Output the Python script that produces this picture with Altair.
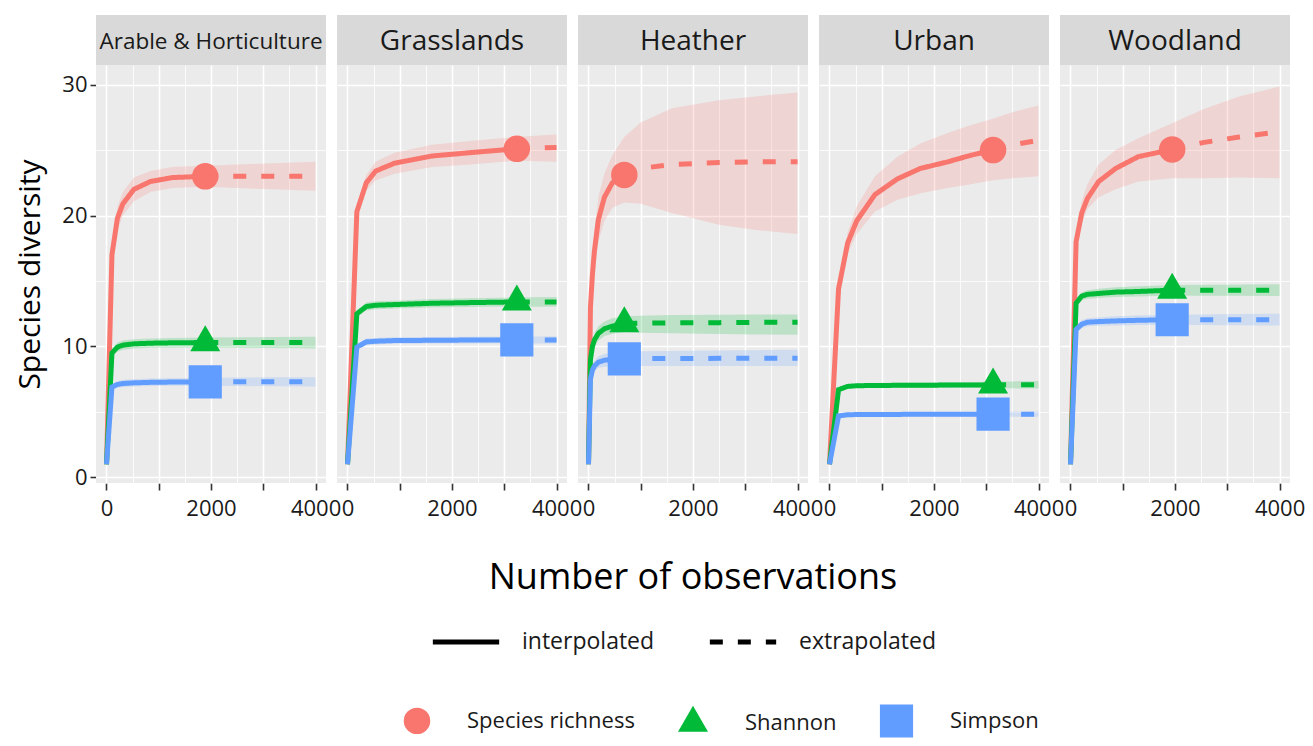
import altair as alt
import pandas as pd

HABITATS = ["Arable & Horticulture", "Grasslands", "Heather", "Urban", "Woodland"]
INDICES = ["Species richness", "Shannon", "Simpson"]
COLORS = ["#F8766D", "#00BA38", "#619CFF"]
# triangle path centred on its centroid, like ggplot's filled triangle
SHAPES = ["circle", "M0,-1.155L1,0.577L-1,0.577Z", "square"]
METHODS = ["interpolated", "extrapolated"]
X_TICKS = [0, 500, 1000, 1500, 2000, 2500, 3000, 3500, 4000]
Y_TICKS = [0, 5, 10, 15, 20, 25, 30]

# ---- Arable & Horticulture ----
ARA_N = 1890
ARA_M = [1, 105, 210, 315, 525, 840, 1260, 1890, 2500, 3200, 4000]
ARA_RICH = [1, 17.0, 19.8, 20.9, 22.0, 22.6, 22.9, 23.0, 23.0, 23.0, 23.0]
ARA_RICH_LO = [1, 16.3, 18.9, 20.0, 21.1, 21.8, 22.1, 22.2, 22.1, 22.0, 21.9]
ARA_RICH_HI = [1, 17.7, 20.7, 21.8, 22.9, 23.4, 23.7, 23.8, 23.9, 24.0, 24.1]
ARA_SHAN = [1, 9.5, 9.95, 10.1, 10.2, 10.25, 10.28, 10.3, 10.3, 10.3, 10.3]
ARA_SHAN_LO = [1, 9.2, 9.6, 9.75, 9.85, 9.9, 9.9, 9.92, 9.9, 9.88, 9.85]
ARA_SHAN_HI = [1, 9.8, 10.3, 10.45, 10.55, 10.6, 10.65, 10.68, 10.7, 10.72, 10.75]
ARA_SIMP = [1, 6.9, 7.1, 7.17, 7.22, 7.26, 7.28, 7.3, 7.3, 7.3, 7.3]
ARA_SIMP_LO = [1, 6.65, 6.85, 6.9, 6.95, 6.98, 7.0, 7.0, 6.98, 6.96, 6.95]
ARA_SIMP_HI = [1, 7.15, 7.35, 7.45, 7.5, 7.55, 7.57, 7.6, 7.62, 7.64, 7.65]

# ---- Grasslands ----
GRA_N = 3240
GRA_M = [1, 180, 360, 540, 900, 1620, 2340, 3240, 3600, 4000]
GRA_RICH = [1, 20.3, 22.5, 23.4, 24.0, 24.55, 24.8, 25.1, 25.15, 25.2]
GRA_RICH_LO = [1, 19.8, 21.9, 22.7, 23.2, 23.7, 23.9, 24.2, 24.15, 24.1]
GRA_RICH_HI = [1, 20.8, 23.1, 24.1, 24.8, 25.4, 25.7, 26.0, 26.1, 26.2]
GRA_SHAN = [1, 12.5, 13.05, 13.15, 13.2, 13.3, 13.35, 13.4, 13.4, 13.4]
GRA_SHAN_LO = [1, 12.25, 12.75, 12.85, 12.9, 12.98, 13.02, 13.05, 13.04, 13.03]
GRA_SHAN_HI = [1, 12.75, 13.35, 13.45, 13.5, 13.62, 13.68, 13.75, 13.76, 13.77]
GRA_SIMP = [1, 9.95, 10.35, 10.4, 10.45, 10.47, 10.49, 10.5, 10.5, 10.5]
GRA_SIMP_LO = [1, 9.75, 10.1, 10.15, 10.2, 10.22, 10.23, 10.24, 10.23, 10.22]
GRA_SIMP_HI = [1, 10.15, 10.6, 10.65, 10.7, 10.72, 10.75, 10.76, 10.77, 10.78]

# ---- Heather ----
HEA_N = 686
HEA_M = [1, 38, 76, 114, 190, 305, 457, 686, 1000, 1600, 2500, 3200, 4000]
HEA_RICH = [1, 13.0, 15.5, 17.3, 19.7, 21.4, 22.5, 23.1, 23.6, 23.9, 24.05, 24.1, 24.1]
HEA_RICH_LO = [1, 11.5, 14.0, 15.8, 18.0, 19.6, 20.6, 21.0, 20.9, 20.2, 19.3, 18.9, 18.6]
HEA_RICH_HI = [1, 14.5, 17.0, 18.8, 21.4, 23.2, 24.6, 26.0, 27.1, 28.2, 28.8, 29.1, 29.4]
HEA_SHAN = [1, 9.0, 10.0, 10.5, 11.0, 11.35, 11.55, 11.75, 11.78, 11.8, 11.82, 11.84, 11.85]
HEA_SHAN_LO = [1, 8.7, 9.6, 10.0, 10.45, 10.8, 10.95, 11.1, 11.05, 11.0, 10.95, 10.92, 10.9]
HEA_SHAN_HI = [1, 9.3, 10.4, 11.0, 11.55, 11.9, 12.15, 12.3, 12.35, 12.4, 12.42, 12.44, 12.45]
HEA_SIMP = [1, 7.5, 8.2, 8.5, 8.8, 8.95, 9.0, 9.05, 9.07, 9.08, 9.09, 9.1, 9.1]
HEA_SIMP_LO = [1, 7.2, 7.85, 8.1, 8.35, 8.45, 8.48, 8.5, 8.5, 8.5, 8.5, 8.5, 8.5]
HEA_SIMP_HI = [1, 7.8, 8.55, 8.9, 9.25, 9.45, 9.52, 9.6, 9.63, 9.66, 9.7, 9.72, 9.75]

# ---- Urban ----
URB_N = 3130
URB_M = [1, 174, 348, 522, 870, 1300, 1740, 2260, 2700, 3130, 3500, 4000]
URB_RICH = [1, 14.4, 17.9, 19.6, 21.6, 22.8, 23.6, 24.1, 24.6, 25.0, 25.4, 25.75]
URB_RICH_LO = [1, 13.9, 17.1, 18.6, 20.3, 21.2, 21.7, 22.1, 22.4, 22.7, 22.85, 23.0]
URB_RICH_HI = [1, 14.9, 18.7, 20.7, 23.0, 24.5, 25.5, 26.3, 26.9, 27.4, 27.9, 28.4]
URB_SHAN = [1, 6.7, 6.95, 7.0, 7.02, 7.03, 7.04, 7.05, 7.06, 7.07, 7.07, 7.07]
URB_SHAN_LO = [1, 6.55, 6.78, 6.82, 6.83, 6.83, 6.83, 6.83, 6.83, 6.83, 6.8, 6.78]
URB_SHAN_HI = [1, 6.85, 7.12, 7.18, 7.21, 7.23, 7.25, 7.27, 7.29, 7.31, 7.33, 7.36]
URB_SIMP = [1, 4.7, 4.78, 4.8, 4.81, 4.81, 4.82, 4.82, 4.83, 4.83, 4.83, 4.83]
URB_SIMP_LO = [1, 4.58, 4.65, 4.66, 4.66, 4.66, 4.66, 4.65, 4.65, 4.65, 4.64, 4.63]
URB_SIMP_HI = [1, 4.82, 4.91, 4.94, 4.96, 4.97, 4.98, 4.99, 5.0, 5.01, 5.02, 5.03]

# ---- Woodland ----
WOO_N = 1946
WOO_M = [1, 108, 216, 324, 540, 865, 1300, 1946, 2530, 3230, 4000]
WOO_RICH = [1, 18.0, 20.2, 21.3, 22.6, 23.6, 24.5, 25.05, 25.57, 26.0, 26.4]
WOO_RICH_LO = [1, 17.3, 19.4, 20.5, 21.4, 22.0, 22.6, 22.85, 22.85, 22.9, 22.85]
WOO_RICH_HI = [1, 18.8, 21.1, 22.4, 23.9, 25.0, 25.9, 27.05, 28.1, 29.1, 29.85]
WOO_SHAN = [1, 13.3, 13.85, 13.98, 14.05, 14.15, 14.2, 14.3, 14.3, 14.3, 14.3]
WOO_SHAN_LO = [1, 13.05, 13.55, 13.65, 13.7, 13.78, 13.82, 13.9, 13.88, 13.87, 13.85]
WOO_SHAN_HI = [1, 13.55, 14.15, 14.3, 14.4, 14.52, 14.6, 14.7, 14.72, 14.74, 14.75]
WOO_SIMP = [1, 11.3, 11.7, 11.85, 11.9, 11.95, 12.0, 12.04, 12.04, 12.04, 12.04]
WOO_SIMP_LO = [1, 11.05, 11.4, 11.55, 11.58, 11.6, 11.63, 11.65, 11.63, 11.62, 11.6]
WOO_SIMP_HI = [1, 11.55, 12.0, 12.15, 12.22, 12.3, 12.37, 12.43, 12.45, 12.47, 12.5]

SERIES = [
    ("Arable & Horticulture", ARA_N, ARA_M, [
        (ARA_RICH, ARA_RICH_LO, ARA_RICH_HI), (ARA_SHAN, ARA_SHAN_LO, ARA_SHAN_HI), (ARA_SIMP, ARA_SIMP_LO, ARA_SIMP_HI)]),
    ("Grasslands", GRA_N, GRA_M, [
        (GRA_RICH, GRA_RICH_LO, GRA_RICH_HI), (GRA_SHAN, GRA_SHAN_LO, GRA_SHAN_HI), (GRA_SIMP, GRA_SIMP_LO, GRA_SIMP_HI)]),
    ("Heather", HEA_N, HEA_M, [
        (HEA_RICH, HEA_RICH_LO, HEA_RICH_HI), (HEA_SHAN, HEA_SHAN_LO, HEA_SHAN_HI), (HEA_SIMP, HEA_SIMP_LO, HEA_SIMP_HI)]),
    ("Urban", URB_N, URB_M, [
        (URB_RICH, URB_RICH_LO, URB_RICH_HI), (URB_SHAN, URB_SHAN_LO, URB_SHAN_HI), (URB_SIMP, URB_SIMP_LO, URB_SIMP_HI)]),
    ("Woodland", WOO_N, WOO_M, [
        (WOO_RICH, WOO_RICH_LO, WOO_RICH_HI), (WOO_SHAN, WOO_SHAN_LO, WOO_SHAN_HI), (WOO_SIMP, WOO_SIMP_LO, WOO_SIMP_HI)]),
]

rows = []
for habitat, n_obs, m_list, triples in SERIES:
    for index, (est, lo, hi) in zip(INDICES, triples):
        for m, e, l, u in zip(m_list, est, lo, hi):
            base = dict(habitat=habitat, index=index, m=m, est=e, lo=l, hi=u)
            if m <= n_obs:
                rows.append(dict(base, kind="interpolated"))
            if m >= n_obs:
                rows.append(dict(base, kind="extrapolated"))
            if m == n_obs:
                rows.append(dict(base, kind="observed"))
df = pd.DataFrame(rows)

W = 230
H = 418
FONT = "Open Sans"

x_enc = alt.X("m:Q", title=None,
              scale=alt.Scale(domain=[-200, 4200], nice=False, zero=False),
              axis=alt.Axis(values=X_TICKS, format="d",
                            labelExpr="datum.value % 2000 === 0 ? datum.label : ''",
                            tickColor={"condition": {"test": "datum.value % 1000 === 0", "value": "#333333"}, "value": "transparent"},
                            gridWidth={"condition": {"test": "datum.value % 1000 === 0", "value": 1.6}, "value": 0.8},
                            gridColor="white", domain=False, tickSize=7, tickWidth=1.6,
                            labelFontSize=22, labelColor="#1a1a1a", labelPadding=8,
                            labelFont=FONT))

y_scale = alt.Scale(domain=[-0.43, 31.5], nice=False, zero=False)
y_axis = alt.Axis(values=Y_TICKS, format="d",
                  labelExpr="datum.value % 10 === 0 ? datum.label : ''",
                  tickColor={"condition": {"test": "datum.value % 10 === 0", "value": "#333333"}, "value": "transparent"},
                  gridWidth={"condition": {"test": "datum.value % 10 === 0", "value": 1.6}, "value": 0.8},
                  gridColor="white", domain=False, tickSize=6, tickWidth=1.6,
                  labelFontSize=22, labelColor="#1a1a1a", labelPadding=3,
                  titleFontSize=30, titleFontWeight="normal", titleColor="black",
                  titlePadding=16, labelFont=FONT, titleFont=FONT)

color_scale = alt.Scale(domain=INDICES, range=COLORS)
# same colours, listed in other orders so the hidden fill/stroke legends stay apart
fill_scale = alt.Scale(domain=[INDICES[1], INDICES[2], INDICES[0]],
                       range=[COLORS[1], COLORS[2], COLORS[0]])
stroke_scale = alt.Scale(domain=[INDICES[2], INDICES[0], INDICES[1]],
                         range=[COLORS[2], COLORS[0], COLORS[1]])

band = alt.Chart().mark_area(opacity=0.2).encode(
    x=x_enc,
    y=alt.Y("lo:Q", title="Species diversity", scale=y_scale, axis=y_axis),
    y2="hi:Q",
    fill=alt.Fill("index:N", scale=fill_scale, legend=None),
).transform_filter("datum.kind !== 'observed'")

lines = alt.Chart().mark_line(strokeWidth=5).encode(
    x=x_enc,
    y=alt.Y("est:Q", scale=y_scale),
    stroke=alt.Stroke("index:N", scale=stroke_scale, legend=None),
    strokeDash=alt.StrokeDash(
        "kind:N",
        scale=alt.Scale(domain=METHODS, range=[[1, 0], [13, 15]]),
        legend=alt.Legend(orient="none", legendX=334, legendY=541, direction="horizontal",
                          title=None, symbolType="stroke", symbolStrokeColor="black",
                          symbolStrokeWidth=5, symbolSize=4400, labelFontSize=23,
                          labelFont=FONT, labelColor="#1a1a1a", columnPadding=44,
                          labelOffset=20, labelLimit=300),
    ),
).transform_filter("datum.kind !== 'observed'")

legend_idx = alt.Legend(orient="none", legendX=307, legendY=638, direction="horizontal",
                        title=None, symbolSize=550, labelFontSize=22, labelFont=FONT,
                        labelColor="#1a1a1a", columnPadding=42, labelOffset=36,
                        labelLimit=300)

points = alt.Chart().mark_point(filled=True, opacity=1).encode(
    x=x_enc,
    y=alt.Y("est:Q", scale=y_scale),
    color=alt.Color("index:N", scale=color_scale, legend=legend_idx),
    shape=alt.Shape("index:N", scale=alt.Scale(domain=INDICES, range=SHAPES), legend=legend_idx),
    size=alt.Size("index:N", scale=alt.Scale(domain=INDICES, range=[700, 1100, 700]), legend=None),
).transform_filter("datum.kind === 'observed'")

strip = alt.Chart().mark_rect(color="#D9D9D9").encode(
    x=alt.value(0), x2=alt.value(W), y=alt.value(-50), y2=alt.value(0),
).transform_filter("datum.kind === 'observed' && datum.index === 'Species richness'")

strip_text = alt.Chart().mark_text(font=FONT, color="#1a1a1a", baseline="middle", align="center").encode(
    x=alt.value(W / 2), y=alt.value(-23),
    text="habitat:N",
    size=alt.Size("fs:Q", scale=None, legend=None),
).transform_filter(
    "datum.kind === 'observed' && datum.index === 'Species richness'"
).transform_calculate(fs="datum.habitat === 'Arable & Horticulture' ? 22.5 : 28")

chart = alt.layer(band, lines, points, strip, strip_text, data=df).properties(
    width=W, height=H
).facet(
    column=alt.Column("habitat:N", sort=HABITATS, title="Number of observations",
                      header=alt.Header(labels=False, titleOrient="bottom", titleFontSize=36,
                                        titleFont=FONT, titleColor="black",
                                        titleFontWeight="normal", titlePadding=32)),
    spacing=11,
).properties(
    padding={"left": 7, "top": 7, "right": 0, "bottom": 0}
).configure(font=FONT).configure_view(
    fill="#EBEBEB", strokeWidth=0
)

chart.save("out.html", embed_options={"renderer": "svg", "actions": False})
